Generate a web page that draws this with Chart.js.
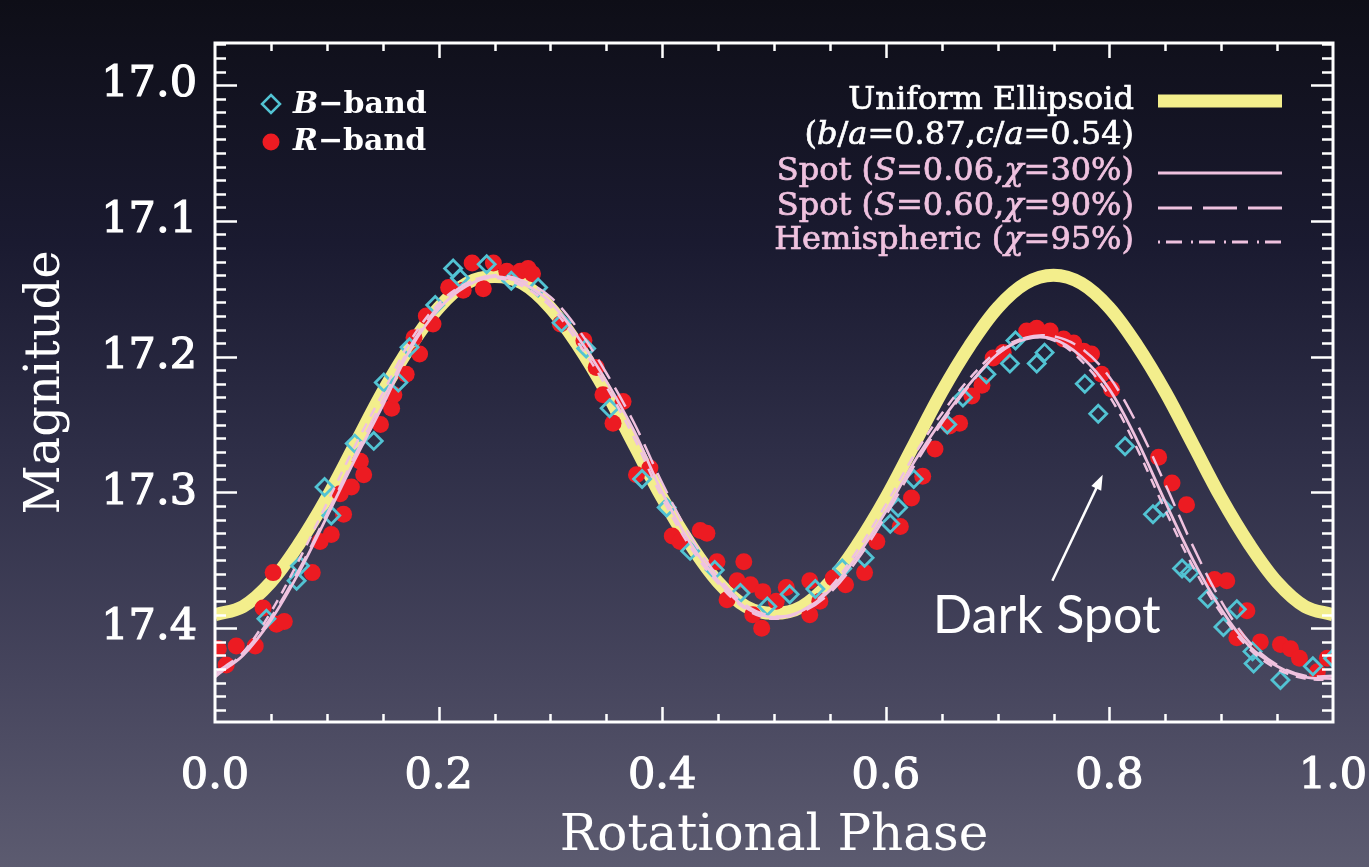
<!DOCTYPE html>
<html>
<head>
<meta charset="utf-8">
<script src="https://cdn.jsdelivr.net/npm/chart.js@4.4.1/dist/chart.umd.min.js"></script>
<style>
  html, body { margin: 0; padding: 0; overflow: hidden; }
  body {
    width: 1369px; height: 867px;
    background: linear-gradient(to bottom, #0e0e17 0%, #1a1a30 28%, #2e2e47 52%, #46455d 78%, #5c5b70 100%);
  }
  canvas { display: block; }
</style>
</head>
<body>
<canvas id="lc" width="1369" height="867"></canvas>
<script>
"use strict";

/* Rotational phase / magnitude */
var bPhase = [0.046, 0.073, 0.076, 0.098, 0.104, 0.125, 0.142, 0.151, 0.164, 0.174,
              0.197, 0.213, 0.219, 0.243, 0.265, 0.289, 0.310, 0.332, 0.353, 0.382,
              0.404, 0.425, 0.447, 0.470, 0.494, 0.514, 0.537, 0.561, 0.581, 0.604,
              0.611, 0.625, 0.655, 0.669, 0.690, 0.711, 0.716, 0.735, 0.742, 0.778,
              0.790, 0.814, 0.839, 0.848, 0.865, 0.872, 0.888, 0.902, 0.914, 0.928,
              0.929, 0.953, 0.982, 1.000];
var bMag   = [17.393, 17.365, 17.354, 17.296, 17.317, 17.264, 17.262, 17.219, 17.219, 17.193,
              17.162, 17.135, 17.142, 17.132, 17.144, 17.149, 17.175, 17.194, 17.238, 17.290,
              17.311, 17.343, 17.357, 17.374, 17.384, 17.375, 17.371, 17.356, 17.348, 17.323,
              17.311, 17.290, 17.250, 17.230, 17.213, 17.205, 17.188, 17.205, 17.197, 17.220,
              17.242, 17.266, 17.316, 17.311, 17.356, 17.359, 17.378, 17.399, 17.386, 17.417,
              17.426, 17.438, 17.428, 17.422];

var rPhase = [0.003, 0.010, 0.019, 0.036, 0.043, 0.052, 0.055, 0.062, 0.087, 0.094,
              0.104, 0.112, 0.115, 0.122, 0.130, 0.133, 0.148, 0.158, 0.160, 0.171,
              0.178, 0.183, 0.189, 0.195, 0.209, 0.222, 0.230, 0.240, 0.249, 0.261,
              0.273, 0.280, 0.284, 0.309, 0.330, 0.341, 0.347, 0.356, 0.365, 0.377,
              0.389, 0.409, 0.416, 0.434, 0.440, 0.449, 0.458, 0.467, 0.473, 0.479,
              0.481, 0.489, 0.490, 0.502, 0.511, 0.532, 0.532, 0.541, 0.553, 0.564,
              0.581, 0.592, 0.613, 0.623, 0.633, 0.644, 0.657, 0.666, 0.677, 0.686,
              0.696, 0.705, 0.726, 0.735, 0.747, 0.759, 0.768, 0.777, 0.784, 0.793,
              0.802, 0.844, 0.856, 0.869, 0.894, 0.905, 0.914, 0.923, 0.935, 0.953,
              0.962, 0.970, 0.986, 0.995];
var rMag   = [17.415, 17.427, 17.413, 17.413, 17.385, 17.359, 17.397, 17.395, 17.359, 17.336,
              17.331, 17.301, 17.316, 17.296, 17.277, 17.287, 17.250, 17.238, 17.228, 17.213,
              17.186, 17.198, 17.170, 17.176, 17.149, 17.151, 17.131, 17.150, 17.131, 17.137,
              17.137, 17.135, 17.139, 17.176, 17.188, 17.208, 17.228, 17.249, 17.233, 17.287,
              17.282, 17.332, 17.336, 17.328, 17.330, 17.351, 17.379, 17.365, 17.351, 17.368,
              17.390, 17.400, 17.373, 17.380, 17.370, 17.365, 17.390, 17.380, 17.363, 17.368,
              17.359, 17.336, 17.325, 17.304, 17.288, 17.268, 17.251, 17.249, 17.229, 17.221,
              17.201, 17.197, 17.181, 17.179, 17.181, 17.187, 17.190, 17.196, 17.198, 17.213,
              17.224, 17.274, 17.293, 17.309, 17.364, 17.365, 17.407, 17.387, 17.410, 17.412,
              17.415, 17.422, 17.432, 17.422];

/* model curves, sampled every 0.025 in phase */
var modelPhase = [0.000, 0.025, 0.050, 0.075, 0.100, 0.125, 0.150, 0.175, 0.200, 0.225,
                  0.250, 0.275, 0.300, 0.325, 0.350, 0.375, 0.400, 0.425, 0.450, 0.475,
                  0.500, 0.525, 0.550, 0.575, 0.600, 0.625, 0.650, 0.675, 0.700, 0.725,
                  0.750, 0.775, 0.800, 0.825, 0.850, 0.875, 0.900, 0.925, 0.950, 0.975, 1.000];
var ellipsoidMag = [17.390, 17.384, 17.366, 17.338, 17.304, 17.265, 17.226, 17.192, 17.164, 17.146,
                    17.141, 17.146, 17.164, 17.192, 17.226, 17.265, 17.304, 17.338, 17.366, 17.384,
                    17.389, 17.384, 17.366, 17.338, 17.304, 17.265, 17.226, 17.192, 17.164, 17.146,
                    17.140, 17.146, 17.164, 17.192, 17.226, 17.265, 17.304, 17.338, 17.366, 17.384, 17.390];
var spot1Mag  = [17.435, 17.420, 17.394, 17.359, 17.318, 17.276, 17.236, 17.194, 17.165, 17.148,
                 17.141, 17.146, 17.160, 17.186, 17.218, 17.255, 17.300, 17.337, 17.365, 17.385,
                 17.392, 17.387, 17.372, 17.346, 17.314, 17.278, 17.247, 17.220, 17.198, 17.187,
                 17.187, 17.200, 17.224, 17.262, 17.307, 17.350, 17.386, 17.413, 17.428, 17.436, 17.437];
var spot2Mag  = [17.433, 17.418, 17.392, 17.357, 17.316, 17.273, 17.232, 17.192, 17.163, 17.146,
                 17.140, 17.144, 17.156, 17.180, 17.212, 17.249, 17.293, 17.332, 17.362, 17.383,
                 17.391, 17.388, 17.374, 17.349, 17.317, 17.281, 17.249, 17.221, 17.198, 17.186,
                 17.185, 17.194, 17.215, 17.250, 17.294, 17.340, 17.380, 17.410, 17.427, 17.435, 17.435];
var hemiMag   = [17.436, 17.418, 17.388, 17.350, 17.308, 17.266, 17.227, 17.188, 17.161, 17.146,
                 17.142, 17.148, 17.163, 17.190, 17.222, 17.260, 17.304, 17.340, 17.367, 17.386,
                 17.393, 17.387, 17.370, 17.342, 17.309, 17.273, 17.242, 17.216, 17.196, 17.186,
                 17.188, 17.203, 17.229, 17.268, 17.313, 17.355, 17.389, 17.415, 17.430, 17.437, 17.438];

var xTicks = [0, 0.2, 0.4, 0.6, 0.8, 1.0];
var yTicks = [17.0, 17.1, 17.2, 17.3, 17.4];

function pts(xs, ys) {
  return xs.map(function (v, i) { return { x: v, y: ys[i] }; });
}

var SERIF = '"DejaVu Serif", serif';
var PINK = '#efc2df';
var YELLOW = '#f3ee8c';
var CYAN = '#52c3d3';
var RED = '#ec1b22';

/* inward ticks on all four sides + the white box */
var framePlugin = {
  id: 'frame',
  afterDatasetsDraw: function (chart) {
    var ctx = chart.ctx, a = chart.chartArea;
    var xs = chart.scales.x, ys = chart.scales.y;
    ctx.save();
    ctx.strokeStyle = '#ffffff';
    ctx.lineWidth = 2.5;
    ctx.beginPath();
    for (var i = 1; i < 20; i++) {
      var px = Math.round(xs.getPixelForValue(i / 20)) + 0.5;
      var len = (i % 4 === 0) ? 15 : 8;
      ctx.moveTo(px, a.bottom); ctx.lineTo(px, a.bottom - len);
      ctx.moveTo(px, a.top); ctx.lineTo(px, a.top + len);
    }
    for (var k = 1697; k <= 1746; k++) {
      var py = Math.round(ys.getPixelForValue(k / 100)) + 0.5;
      var l2 = (k % 10 === 0) ? 22 : 11;
      ctx.moveTo(a.left, py); ctx.lineTo(a.left + l2, py);
      ctx.moveTo(a.right, py); ctx.lineTo(a.right - l2, py);
    }
    ctx.stroke();
    ctx.lineWidth = 3;
    ctx.strokeRect(a.left, a.top, a.right - a.left, a.bottom - a.top);
    ctx.restore();
  }
};

/* draw text made of [string, italic] pieces */
function richText(ctx, parts, x, y, size, color, align, bold) {
  var w = 0;
  parts.forEach(function (p) {
    ctx.font = (p[1] ? 'italic ' : '') + (bold ? 'bold ' : '') + size + 'px ' + SERIF;
    w += ctx.measureText(p[0]).width;
  });
  var cx = align === 'right' ? x - w : x;
  ctx.fillStyle = color;
  ctx.strokeStyle = color;
  ctx.lineWidth = 0.7;
  ctx.textAlign = 'left';
  ctx.textBaseline = 'middle';
  parts.forEach(function (p) {
    ctx.font = (p[1] ? 'italic ' : '') + (bold ? 'bold ' : '') + size + 'px ' + SERIF;
    ctx.fillText(p[0], cx, y);
    if (!bold) ctx.strokeText(p[0], cx, y);
    cx += ctx.measureText(p[0]).width;
  });
}

var notesPlugin = {
  id: 'notes',
  afterDraw: function (chart) {
    var ctx = chart.ctx, a = chart.chartArea;
    var xs = chart.scales.x, ys = chart.scales.y;
    ctx.save();

    /* legend, top left */
    var lx = a.left + 56;
    ctx.strokeStyle = CYAN; ctx.lineWidth = 2.5;
    ctx.beginPath();
    ctx.moveTo(lx, a.top + 52); ctx.lineTo(lx + 9, a.top + 61);
    ctx.lineTo(lx, a.top + 70); ctx.lineTo(lx - 9, a.top + 61); ctx.closePath();
    ctx.stroke();
    ctx.fillStyle = RED;
    ctx.beginPath(); ctx.arc(lx, a.top + 99, 8.5, 0, Math.PI * 2); ctx.fill();
    richText(ctx, [['B', 1], ['\u2212band', 0]], a.left + 78, a.top + 62, 30, '#ffffff', 'left', true);
    richText(ctx, [['R', 1], ['\u2212band', 0]], a.left + 78, a.top + 99, 30, '#ffffff', 'left', true);

    /* legend, top right */
    var tx = a.left + 919, s0 = a.left + 943, s1 = a.left + 1067;
    var rows = [a.top + 58, a.top + 93, a.top + 129, a.top + 164, a.top + 198];
    richText(ctx, [['Uniform Ellipsoid', 0]], tx, rows[0], 32, '#ffffff', 'right');
    richText(ctx, [['(', 0], ['b', 1], ['/', 0], ['a', 1], ['=0.87,', 0], ['c', 1], ['/', 0], ['a', 1], ['=0.54)', 0]],
             tx, rows[1], 32, '#ffffff', 'right');
    richText(ctx, [['Spot (', 0], ['S', 1], ['=0.06,', 0], ['\u03c7', 1], ['=30%)', 0]], tx, rows[2], 32, PINK, 'right');
    richText(ctx, [['Spot (', 0], ['S', 1], ['=0.60,', 0], ['\u03c7', 1], ['=90%)', 0]], tx, rows[3], 32, PINK, 'right');
    richText(ctx, [['Hemispheric (', 0], ['\u03c7', 1], ['=95%)', 0]], tx, rows[4], 32, PINK, 'right');

    ctx.lineCap = 'butt';
    ctx.strokeStyle = YELLOW; ctx.lineWidth = 13;
    ctx.beginPath(); ctx.moveTo(s0, rows[0]); ctx.lineTo(s1, rows[0]); ctx.stroke();
    ctx.strokeStyle = PINK; ctx.lineWidth = 2.8;
    ctx.beginPath(); ctx.moveTo(s0, rows[2] + 1); ctx.lineTo(s1, rows[2] + 1); ctx.stroke();
    ctx.setLineDash([34, 11]);
    ctx.beginPath(); ctx.moveTo(s0, rows[3] + 1); ctx.lineTo(s1, rows[3] + 1); ctx.stroke();
    ctx.setLineDash([2, 6, 16, 9]);
    ctx.beginPath(); ctx.moveTo(s0, rows[4] + 1); ctx.lineTo(s1, rows[4] + 1); ctx.stroke();
    ctx.setLineDash([]);

    /* Dark Spot note and arrow */
    var ax0 = xs.getPixelForValue(0.749), ay0 = ys.getPixelForValue(17.365);
    var ax1 = xs.getPixelForValue(0.794), ay1 = ys.getPixelForValue(17.287);
    var ang = Math.atan2(ay1 - ay0, ax1 - ax0);
    ctx.strokeStyle = '#ffffff'; ctx.fillStyle = '#ffffff'; ctx.lineWidth = 2.5;
    ctx.beginPath(); ctx.moveTo(ax0, ay0);
    ctx.lineTo(ax1 - 10 * Math.cos(ang), ay1 - 10 * Math.sin(ang)); ctx.stroke();
    ctx.beginPath();
    ctx.moveTo(ax1, ay1);
    ctx.lineTo(ax1 - 16 * Math.cos(ang - 0.35), ay1 - 16 * Math.sin(ang - 0.35));
    ctx.lineTo(ax1 - 16 * Math.cos(ang + 0.35), ay1 - 16 * Math.sin(ang + 0.35));
    ctx.closePath(); ctx.fill();

    ctx.font = '52px Lato, "Open Sans", sans-serif';
    ctx.textAlign = 'left'; ctx.textBaseline = 'alphabetic';
    ctx.fillText('Dark Spot', xs.getPixelForValue(0.642), ys.getPixelForValue(17.4037));
    ctx.restore();
  }
};

new Chart(document.getElementById('lc'), {
  type: 'scatter',
  data: {
    datasets: [
      { label: 'Uniform Ellipsoid', type: 'line', data: pts(modelPhase, ellipsoidMag),
        borderColor: YELLOW, borderWidth: 13, pointRadius: 0, tension: 0.35, fill: false, order: 6 },
      { label: 'R-band', data: pts(rPhase, rMag), pointStyle: 'circle', pointRadius: 8.5,
        backgroundColor: RED, borderWidth: 0, order: 5 },
      { label: 'B-band', data: pts(bPhase, bMag), pointStyle: 'rectRot', pointRadius: 8.5,
        backgroundColor: 'rgba(0,0,0,0)', borderColor: CYAN, borderWidth: 2.8, order: 4 },
      { label: 'Spot S=0.60', type: 'line', data: pts(modelPhase, spot2Mag), borderColor: PINK,
        borderWidth: 2.5, borderDash: [22, 10], pointRadius: 0, tension: 0.35, order: 3 },
      { label: 'Hemispheric', type: 'line', data: pts(modelPhase, hemiMag), borderColor: PINK,
        borderWidth: 2.5, borderDash: [10, 8], pointRadius: 0, tension: 0.35, order: 2 },
      { label: 'Spot S=0.06', type: 'line', data: pts(modelPhase, spot1Mag), borderColor: PINK,
        borderWidth: 2.8, pointRadius: 0, tension: 0.35, order: 1 }
    ]
  },
  options: {
    responsive: false,
    animation: false,
    layout: { padding: { top: 43, right: 36, left: 0, bottom: 0 } },
    plugins: { legend: { display: false }, tooltip: { enabled: false } },
    scales: {
      x: {
        type: 'linear', min: 0, max: 1,
        afterFit: function (s) { s.height = 145; s.paddingLeft = 0; s.paddingRight = 0; },
        afterBuildTicks: function (s) { s.ticks = xTicks.map(function (v) { return { value: v }; }); },
        grid: { display: false, drawTicks: false }, border: { display: false },
        ticks: { color: '#ffffff', padding: 29, font: { family: SERIF, size: 43 },
                 textStrokeColor: '#ffffff', textStrokeWidth: 1.2,
                 maxRotation: 0, callback: function (v) { return Number(v).toFixed(1); } },
        title: { display: true, text: 'Rotational Phase', color: '#ffffff',
                 font: { family: SERIF, size: 50 }, padding: { top: 0, bottom: 0 } }
      },
      y: {
        type: 'linear', reverse: true, min: 16.969, max: 17.469,
        afterFit: function (s) { s.width = 215; s.paddingTop = 0; s.paddingBottom = 0; },
        afterBuildTicks: function (s) { s.ticks = yTicks.map(function (v) { return { value: v }; }); },
        grid: { display: false, drawTicks: false }, border: { display: false },
        ticks: { color: '#ffffff', padding: 18, font: { family: SERIF, size: 43 },
                 textStrokeColor: '#ffffff', textStrokeWidth: 1.2,
                 callback: function (v) { return Number(v).toFixed(1); } },
        title: { display: true, text: 'Magnitude', color: '#ffffff',
                 font: { family: SERIF, size: 48 }, padding: { top: 18, bottom: 0 } }
      }
    }
  },
  plugins: [framePlugin, notesPlugin]
});
</script>
</body>
</html>
